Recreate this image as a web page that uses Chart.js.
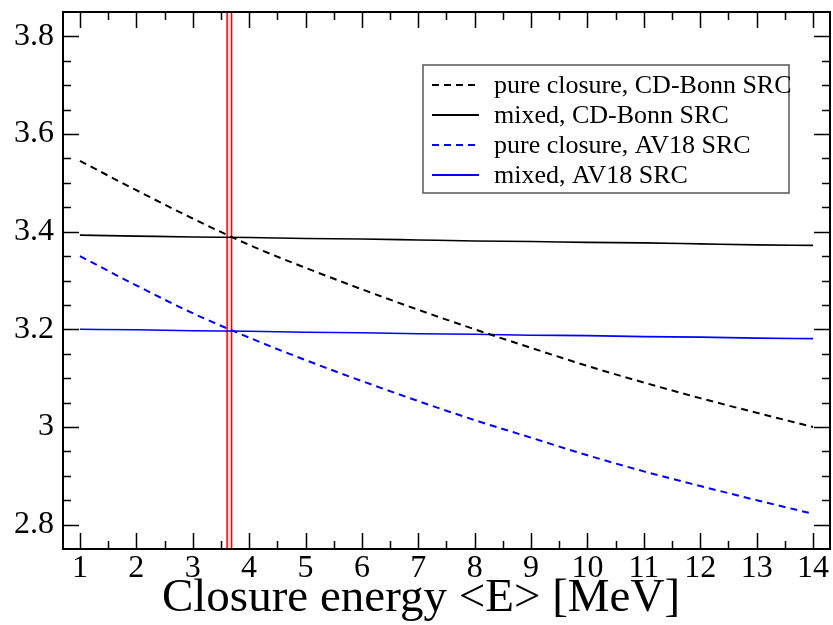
<!DOCTYPE html>
<html>
<head>
<meta charset="utf-8">
<script src="https://cdn.jsdelivr.net/npm/chart.js@4.4.1/dist/chart.umd.min.js"></script>
<style>
    body { margin: 0; background: #fff; }
    #wrap { width: 833px; height: 625px; }
</style>
</head>
<body>
<div id="wrap"><canvas id="closureChart" width="833" height="625"></canvas></div>
<script>
// Closure energy values (MeV)
const energies = [1, 2, 3, 4, 5, 6, 7, 8, 9, 10, 11, 12, 13, 14];

// Series
const pureCdBonn = [3.545, 3.485, 3.427, 3.373, 3.326, 3.282, 3.240, 3.200, 3.162, 3.125, 3.091, 3.059, 3.029, 3.000];
const mixedCdBonn = [3.393, 3.391, 3.389, 3.388, 3.386, 3.385, 3.383, 3.381, 3.380, 3.378, 3.377, 3.375, 3.373, 3.372];
const pureAv18 = [3.350, 3.290, 3.233, 3.183, 3.137, 3.094, 3.053, 3.014, 2.978, 2.942, 2.909, 2.879, 2.850, 2.822];
const mixedAv18 = [3.200, 3.199, 3.197, 3.196, 3.194, 3.193, 3.191, 3.190, 3.188, 3.187, 3.185, 3.184, 3.182, 3.181];

const seriesLabels = ['pure closure, CD-Bonn SRC', 'mixed, CD-Bonn SRC', 'pure closure, AV18 SRC', 'mixed, AV18 SRC'];
const xTitle = 'Closure energy <E> [MeV]';

// Axis ticks
const xTicks = [1, 2, 3, 4, 5, 6, 7, 8, 9, 10, 11, 12, 13, 14];
const yTicks = [2.8, 3.0, 3.2, 3.4, 3.6, 3.8];
const yTickLabels = ['2.8', '3', '3.2', '3.4', '3.6', '3.8'];

// Red band marking the chosen closure energy
const bandRange = [3.61, 3.69];

const serif = "'Liberation Serif', 'DejaVu Serif', serif";

function toPoints(values) {
    return energies.map((e, i) => ({ x: e, y: values[i] }));
}

function makeSeries(label, values, color, dashed) {
    return {
        label: label,
        data: toPoints(values),
        borderColor: color,
        backgroundColor: color,
        borderWidth: dashed ? 2 : 1.6,
        borderDash: dashed ? [7, 5] : [],
        pointRadius: 0,
        cubicInterpolationMode: 'monotone',
        fill: false
    };
}

// Frame, inward ticks, red band, boxed legend and axis title
const framePlugin = {
    id: 'frame',
    beforeDatasetsDraw(chart) {
        const { ctx, chartArea: a, scales: { x } } = chart;
        const x0 = x.getPixelForValue(bandRange[0]);
        const x1 = x.getPixelForValue(bandRange[1]);
        ctx.save();
        ctx.fillStyle = '#ffe0e0';
        ctx.fillRect(x0, a.top, x1 - x0, a.bottom - a.top);
        ctx.strokeStyle = '#ff0000';
        ctx.lineWidth = 1.5;
        ctx.beginPath();
        ctx.moveTo(x0, a.top); ctx.lineTo(x0, a.bottom);
        ctx.moveTo(x1, a.top); ctx.lineTo(x1, a.bottom);
        ctx.stroke();
        ctx.restore();
    },
    afterDatasetsDraw(chart) {
        const { ctx, chartArea: a, scales: { x, y } } = chart;
        ctx.save();
        ctx.strokeStyle = '#000';
        ctx.lineWidth = 1.5;
        ctx.beginPath();
        // x ticks, major every 1, minor every 0.5
        for (let k = 0; k <= 26; k++) {
            const px = Math.round(x.getPixelForValue(1 + k * 0.5)) + 0.5;
            const len = k % 2 === 0 ? 16 : 8;
            ctx.moveTo(px, a.bottom); ctx.lineTo(px, a.bottom - len);
            ctx.moveTo(px, a.top); ctx.lineTo(px, a.top + len);
        }
        // y ticks, major every 0.2, minor every 0.05
        for (let k = 0; k <= 20; k++) {
            const py = Math.round(y.getPixelForValue(2.8 + k * 0.05)) + 0.5;
            const len = k % 4 === 0 ? 16 : 8;
            ctx.moveTo(a.left, py); ctx.lineTo(a.left + len, py);
            ctx.moveTo(a.right, py); ctx.lineTo(a.right - len, py);
        }
        ctx.stroke();
        ctx.lineWidth = 2;
        ctx.strokeRect(a.left, a.top, a.right - a.left, a.bottom - a.top);

        // legend
        const box = { left: 423, top: 65, width: 366, height: 128 };
        ctx.fillStyle = '#fff';
        ctx.fillRect(box.left, box.top, box.width, box.height);
        ctx.strokeStyle = '#555';
        ctx.lineWidth = 1.5;
        ctx.strokeRect(box.left, box.top, box.width, box.height);
        ctx.font = '26px ' + serif;
        ctx.textBaseline = 'middle';
        chart.data.datasets.forEach((ds, i) => {
            const cy = 85 + i * 30;
            ctx.strokeStyle = ds.borderColor;
            ctx.lineWidth = 1.8;
            ctx.setLineDash(ds.borderDash.length ? [7, 5] : []);
            ctx.beginPath();
            ctx.moveTo(432, cy); ctx.lineTo(479, cy);
            ctx.stroke();
            ctx.setLineDash([]);
            ctx.fillStyle = '#000';
            ctx.fillText(ds.label, 494, cy + 1);
        });

        // x axis title
        ctx.font = '47px ' + serif;
        ctx.textAlign = 'center';
        ctx.textBaseline = 'alphabetic';
        ctx.fillText(xTitle, 421, 611);
        ctx.restore();
    }
};

new Chart(document.getElementById('closureChart'), {
    type: 'line',
    data: {
        datasets: [
            makeSeries(seriesLabels[0], pureCdBonn, '#000000', true),
            makeSeries(seriesLabels[1], mixedCdBonn, '#000000', false),
            makeSeries(seriesLabels[2], pureAv18, '#0000ff', true),
            makeSeries(seriesLabels[3], mixedAv18, '#0000ff', false)
        ]
    },
    options: {
        responsive: false,
        animation: false,
        layout: { padding: { top: 12, right: 3, left: 0, bottom: 0 } },
        plugins: {
            legend: { display: false },
            tooltip: { enabled: false }
        },
        scales: {
            x: {
                type: 'linear',
                min: 0.7,
                max: 14.3,
                grid: { display: false, drawTicks: false },
                border: { display: false },
                afterBuildTicks: scale => { scale.ticks = xTicks.map(v => ({ value: v })); },
                afterFit: scale => {
                    scale.height = 76;
                    scale.paddingLeft = 0;
                    scale.paddingRight = 0;
                },
                ticks: {
                    color: '#000',
                    padding: 0,
                    maxRotation: 0,
                    autoSkip: false,
                    font: { family: serif, size: 32 }
                }
            },
            y: {
                min: 2.75,
                max: 3.85,
                grid: { display: false, drawTicks: false },
                border: { display: false },
                afterBuildTicks: scale => { scale.ticks = yTicks.map(v => ({ value: v })); },
                afterFit: scale => {
                    scale.width = 63;
                    scale.paddingTop = 0;
                    scale.paddingBottom = 0;
                },
                ticks: {
                    color: '#000',
                    padding: 9,
                    autoSkip: false,
                    font: { family: serif, size: 32 },
                    callback: (value) => {
                        const i = yTicks.findIndex(t => Math.abs(t - value) < 1e-6);
                        return i >= 0 ? yTickLabels[i] : '';
                    }
                }
            }
        }
    },
    plugins: [framePlugin]
});
</script>
</body>
</html>
